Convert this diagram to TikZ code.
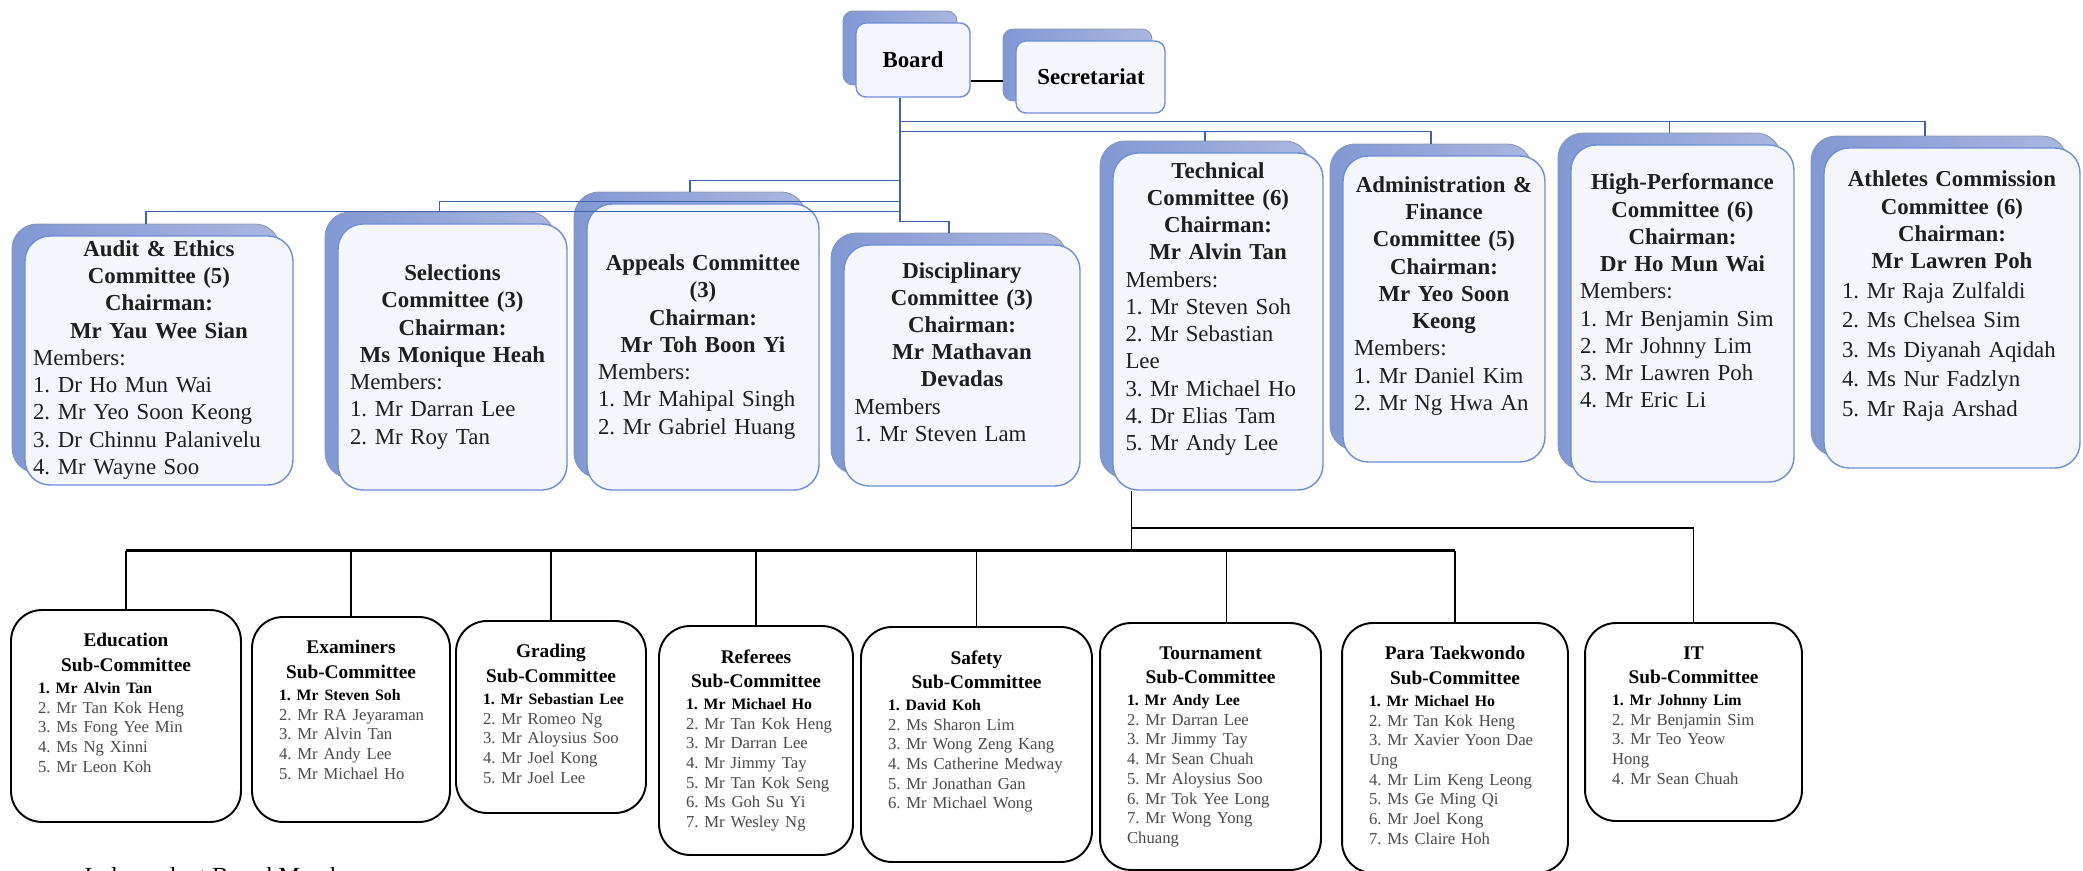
\documentclass[tikz,border=0pt]{standalone}
\usepackage{fontspec}
\setmainfont{Liberation Serif}
\setlength{\parindent}{0pt}
\setlength{\parskip}{0pt}
\frenchspacing
\definecolor{bk1}{HTML}{8298D3}
\definecolor{bk2}{HTML}{A9B7E1}
\definecolor{bkline}{HTML}{8C95AD}
\definecolor{frfill}{HTML}{F4F6FB}
\definecolor{frline}{HTML}{6D8ED8}
\definecolor{conncol}{HTML}{3F62AE}
\definecolor{itemgray}{HTML}{4A4A4A}
\definecolor{memcol}{HTML}{1E1E1E}
\newcommand{\Hd}[1]{{\centering\bfseries #1\par}}
\newcommand{\Ln}[1]{\mbox{#1}\par}
\newcommand{\SubHd}[1]{{\centering\bfseries\fontsize{11}{14}\selectfont #1\par}}
\newcommand{\Bd}[1]{{\fontsize{9}{12.5}\selectfont\bfseries\mbox{#1}\par}}
\newcommand{\Gy}[1]{{\color{itemgray}\fontsize{9.5}{11.2}\selectfont\mbox{#1}\par}}
\tikzset{
 backbox/.style={rounded corners=0.5cm, left color=bk1, right color=bk2, draw=bkline, line width=0.5pt, inner sep=0},
 frontbox/.style={rounded corners=0.5cm, fill=frfill, draw=frline, line width=0.8pt, inner sep=0},
 smallback/.style={backbox, rounded corners=0.2cm},
 smallfront/.style={frontbox, rounded corners=0.2cm},
 subbox/.style={rounded corners=0.62cm, draw=black, line width=1.1pt, fill=white, inner sep=0},
 conn/.style={draw=conncol, line width=0.9pt},
 bconn/.style={draw=black, line width=0.85pt},
 bus/.style={draw=black, line width=1.7pt},
 toptext/.style={inner sep=0, font=\fontsize{13}{15.5}\selectfont, text=memcol},
 subtext/.style={inner sep=0, anchor=north, text=black},
}
\newcommand{\CBox}[5]{%
 \node[backbox, minimum width=#4, minimum height=#5] (#1B) at (#2-13,#3-12) {};
 \node[frontbox, minimum width=#4, minimum height=#5] (#1) at (#2,#3) {};}
\begin{document}
\begin{tikzpicture}[x=0.02cm,y=-0.02cm]
\useasboundingbox (0,0) rectangle (2083,871);
\fill[white] (0,0) rectangle (2083,871);

% Board and Secretariat
\node[smallback, minimum width=2.28cm, minimum height=1.48cm] (boardB) at (900,48) {};
\node[smallfront, minimum width=2.28cm, minimum height=1.48cm] (board) at (913,60) {};
\node[font=\bfseries\fontsize{13}{15}\selectfont, inner sep=0] (boardT) at (913,60) {Board};
\node[smallback, minimum width=2.98cm, minimum height=1.44cm] (secB) at (1077.5,65) {};
\node[smallfront, minimum width=2.98cm, minimum height=1.44cm] (sec) at (1090.5,77) {};
\node[font=\bfseries\fontsize{13}{15}\selectfont, inner sep=0] (secT) at (1091,77) {Secretariat};
\draw[black, line width=0.8pt] ([yshift=-0.42cm]board.east) -- ([yshift=-0.42cm]board.east -| secB.west);
\coordinate (t) at ([xshift=-0.26cm]board.south);

% Committees
\CBox{aud}{159}{360.5}{5.36cm}{4.98cm}
\node[toptext, text width=5.04cm] (audT) at (159,360) {\Hd{Audit \& Ethics\\Committee (5)\\Chairman:\\Mr Yau Wee Sian}\Ln{Members:}\Ln{1. Dr Ho Mun Wai}\Ln{2. Mr Yeo Soon Keong}\Ln{3. Dr Chinnu Palanivelu}\Ln{4. Mr Wayne Soo}};

\CBox{sel}{452.5}{357}{4.58cm}{5.32cm}
\node[toptext, text width=4.1cm] (selT) at (452.5,357) {\Hd{Selections\\Committee (3)\\Chairman:\\Ms Monique Heah}\Ln{Members:}\Ln{1. Mr Darran Lee}\Ln{2. Mr Roy Tan}};

\CBox{app}{703}{347}{4.64cm}{5.72cm}
\node[toptext, text width=4.2cm] (appT) at (703,347) {\Hd{Appeals Committee\\(3)\\Chairman:\\Mr Toh Boon Yi}\Ln{Members:}\Ln{1. Mr Mahipal Singh}\Ln{2. Mr Gabriel Huang}};

\CBox{dis}{962}{365.5}{4.72cm}{4.82cm}
\node[toptext, text width=4.3cm] (disT) at (962,352) {\Hd{Disciplinary\\Committee (3)\\Chairman:\\Mr Mathavan\\Devadas}\Ln{Members}\Ln{1. Mr Steven Lam}};

\CBox{tec}{1218}{321.5}{4.2cm}{6.74cm}
\node[toptext, text width=3.7cm] (tecT) at (1218,309) {\Hd{Technical\\Committee (6)\\Chairman:\\Mr Alvin Tan}\Ln{Members:}\Ln{1. Mr Steven Soh}\Ln{2. Mr Sebastian}\Ln{Lee}\Ln{3. Mr Michael Ho}\Ln{4. Dr Elias Tam}\Ln{5. Mr Andy Lee}};

\CBox{adm}{1444}{309}{4.04cm}{6.12cm}
\node[toptext, text width=3.6cm] (admT) at (1444,296) {\Hd{Administration \&\\Finance\\Committee (5)\\Chairman:\\Mr Yeo Soon\\Keong}\Ln{Members:}\Ln{1. Mr Daniel Kim}\Ln{2. Mr Ng Hwa An}};

\CBox{hp}{1682.5}{313.5}{4.46cm}{6.74cm}
\node[toptext, text width=4.1cm] (hpT) at (1682.5,291) {\Hd{High-Performance\\Committee (6)\\Chairman:\\Dr Ho Mun Wai}\Ln{Members:}\Ln{1. Mr Benjamin Sim}\Ln{2. Mr Johnny Lim}\Ln{3. Mr Lawren Poh}\Ln{4. Mr Eric Li}};

\CBox{ath}{1952}{308}{5.12cm}{6.4cm}
\node[toptext, text width=4.4cm] (athT) at (1952,296) {\Hd{Athletes Commission\\Committee (6)\\Chairman:\\Mr Lawren Poh}\fontsize{13}{16.8}\selectfont\Ln{1. Mr Raja Zulfaldi}\Ln{2. Ms Chelsea Sim}\Ln{3. Ms Diyanah Aqidah}\Ln{4. Ms Nur Fadzlyn}\Ln{5. Mr Raja Arshad}};

% blue connectors
\draw[conn] (audB.north) -- ++(0,-12) -| (t);
\draw[conn] (selB.north) -- ++(0,-10) -| (t);
\draw[conn] (appB.north) -- ++(0,-11) -| (t);
\draw[conn] (disB.north) -- ++(0,-11) -| (t);
\draw[conn] (tecB.north) -- ++(0,-9) -| (t);
\draw[conn] (admB.north) -- ++(0,-12) -| (t);
\draw[conn] (hpB.north) -- ++(0,-11) -| (t);
\draw[conn] ([xshift=-0.28cm]athB.north) -- ++(0,-14) -| (t);

% Sub-committees
\node[subbox, minimum width=4.6cm, minimum height=4.24cm] (edu) at (126,716) {};
\node[subtext, text width=3.52cm] (eduT) at ([yshift=-0.48cm]edu.north) {\SubHd{Education\\Sub-Committee}\Bd{1. Mr Alvin Tan}\Gy{2. Mr Tan Kok Heng}\Gy{3. Ms Fong Yee Min}\Gy{4. Ms Ng Xinni}\Gy{5. Mr Leon Koh}};

\node[subbox, minimum width=3.96cm, minimum height=4.1cm] (exa) at (351,719.5) {};
\node[subtext, text width=2.88cm] (exaT) at ([yshift=-0.48cm]exa.north) {\SubHd{Examiners\\Sub-Committee}\Bd{1. Mr Steven Soh}\Gy{2. Mr RA Jeyaraman}\Gy{3. Mr Alvin Tan}\Gy{4. Mr Andy Lee}\Gy{5. Mr Michael Ho}};

\node[subbox, minimum width=3.8cm, minimum height=3.84cm] (gra) at (551,717) {};
\node[subtext, text width=2.72cm] (graT) at ([yshift=-0.48cm]gra.north) {\SubHd{Grading\\Sub-Committee}\Bd{1. Mr Sebastian Lee}\Gy{2. Mr Romeo Ng}\Gy{3. Mr Aloysius Soo}\Gy{4. Mr Joel Kong}\Gy{5. Mr Joel Lee}};

\node[subbox, minimum width=3.88cm, minimum height=4.58cm] (ref) at (756,740.5) {};
\node[subtext, text width=2.8cm] (refT) at ([yshift=-0.48cm]ref.north) {\SubHd{Referees\\Sub-Committee}\Bd{1. Mr Michael Ho}\Gy{2. Mr Tan Kok Heng}\Gy{3. Mr Darran Lee}\Gy{4. Mr Jimmy Tay}\Gy{5. Mr Tan Kok Seng}\Gy{6. Ms Goh Su Yi}\Gy{7. Mr Wesley Ng}};

\node[subbox, minimum width=4.62cm, minimum height=4.7cm] (saf) at (976.5,744.5) {};
\node[subtext, text width=3.54cm] (safT) at ([yshift=-0.48cm]saf.north) {\SubHd{Safety\\Sub-Committee}\Bd{1. David Koh}\Gy{2. Ms Sharon Lim}\Gy{3. Mr Wong Zeng Kang}\Gy{4. Ms Catherine Medway}\Gy{5. Mr Jonathan Gan}\Gy{6. Mr Michael Wong}};

\node[subbox, minimum width=4.42cm, minimum height=4.94cm] (tou) at (1210.5,746.5) {};
\node[subtext, text width=3.34cm] (touT) at ([yshift=-0.48cm]tou.north) {\SubHd{Tournament\\Sub-Committee}\Bd{1. Mr Andy Lee}\Gy{2. Mr Darran Lee}\Gy{3. Mr Jimmy Tay}\Gy{4. Mr Sean Chuah}\Gy{5. Mr Aloysius Soo}\Gy{6. Mr Tok Yee Long}\Gy{7. Mr Wong Yong}\Gy{Chuang}};

\node[subbox, minimum width=4.52cm, minimum height=5.0cm] (par) at (1455,748) {};
\node[subtext, text width=3.44cm] (parT) at ([yshift=-0.48cm]par.north) {\SubHd{Para Taekwondo\\Sub-Committee}\Bd{1. Mr Michael Ho}\Gy{2. Mr Tan Kok Heng}\Gy{3. Mr Xavier Yoon Dae}\Gy{Ung}\Gy{4. Mr Lim Keng Leong}\Gy{5. Ms Ge Ming Qi}\Gy{6. Mr Joel Kong}\Gy{7. Ms Claire Hoh}};

\node[subbox, minimum width=4.34cm, minimum height=3.96cm] (it) at (1693.5,722) {};
\node[subtext, text width=3.26cm] (itT) at ([yshift=-0.48cm]it.north) {\SubHd{IT\\Sub-Committee}\Bd{1. Mr Johnny Lim}\Gy{2. Mr Benjamin Sim}\Gy{3. Mr Teo Yeow}\Gy{Hong}\Gy{4. Mr Sean Chuah}};

% black connectors
\draw[bconn] ([xshift=0.38cm]tec.south west) -- ++(0,60) coordinate (tdrop);
\path ([xshift=0.38cm]tec.south west) ++(0,37) coordinate (tmid);
\draw[bconn, line width=1.1pt] (tmid) -| (it.north);
\draw[bus] (edu.north |- tdrop) -- (par.north |- tdrop);
\foreach \n in {edu,exa,gra,ref,saf,par}{
 \draw[bconn] (\n.north) -- (\n.north |- tdrop);
}
\draw[bconn] ([xshift=0.32cm]tou.north) -- ([xshift=0.32cm]tou.north |- tdrop);

\node[anchor=base west, inner sep=0, font=\fontsize{14}{16}\selectfont] (ibm) at (84,884) {Independent Board Members};
\end{tikzpicture}
\end{document}
